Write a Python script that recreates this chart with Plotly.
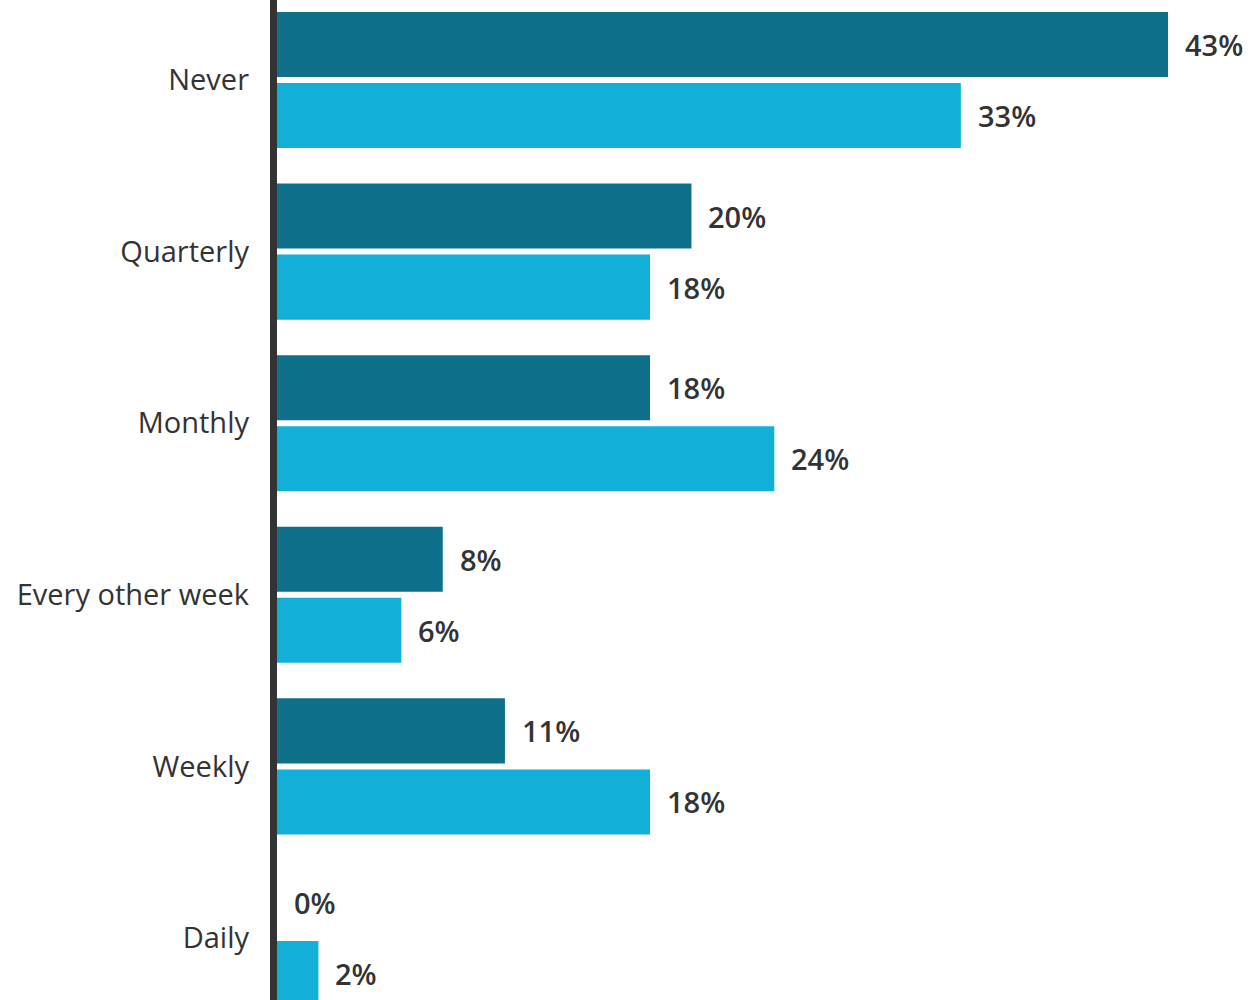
import plotly.graph_objects as go

# Survey responses: how often, two respondent groups (percent)
categories = ["Never", "Quarterly", "Monthly", "Every other week", "Weekly", "Daily"]
series_dark = [43, 20, 18, 8, 11, 0]
series_light = [33, 18, 24, 6, 18, 2]

DARK = "#0e708a"
LIGHT = "#12b0d9"
TEXT = "#333333"
FONT = "Open Sans"

idx = list(range(len(categories)))
bar_h = 0.379      # bar thickness in category units
offset = 0.207     # distance of each bar from its category centre

y_dark = [i - offset for i in idx]
y_light = [i + offset for i in idx]

fig = go.Figure()
fig.add_trace(go.Bar(
    x=series_dark, y=y_dark, orientation="h", width=bar_h,
    marker=dict(color=DARK, line=dict(width=0)), hoverinfo="skip", showlegend=False,
))
fig.add_trace(go.Bar(
    x=series_light, y=y_light, orientation="h", width=bar_h,
    marker=dict(color=LIGHT, line=dict(width=0)), hoverinfo="skip", showlegend=False,
))

# value labels just past the end of each bar
annotations = []
for vals, ys in ((series_dark, y_dark), (series_light, y_light)):
    for v, y in zip(vals, ys):
        annotations.append(dict(
            x=v, y=y, xref="x", yref="y", text=f"{v}%",
            showarrow=False, xanchor="left", yanchor="middle", xshift=15,
            font=dict(family=FONT, size=29, color=TEXT, weight=600),
        ))

fig.update_layout(
    width=1253, height=1000,
    margin=dict(l=277, r=0, t=0, b=0),
    paper_bgcolor="white", plot_bgcolor="white",
    annotations=annotations,
    xaxis=dict(range=[0, 47.1], visible=False, fixedrange=True),
    yaxis=dict(
        range=[5.3613, -0.4662],
        tickvals=idx, ticktext=categories,
        tickfont=dict(family=FONT, size=29, color=TEXT),
        showgrid=False, zeroline=False, showline=False,
        ticks="", ticklabelstandoff=27,
    ),
    shapes=[dict(
        type="rect", xref="paper", yref="paper",
        x0=-7 / 976, x1=0, y0=0, y1=1,
        fillcolor=TEXT, line=dict(width=0), layer="above",
    )],
)

fig.write_html("out.html")
